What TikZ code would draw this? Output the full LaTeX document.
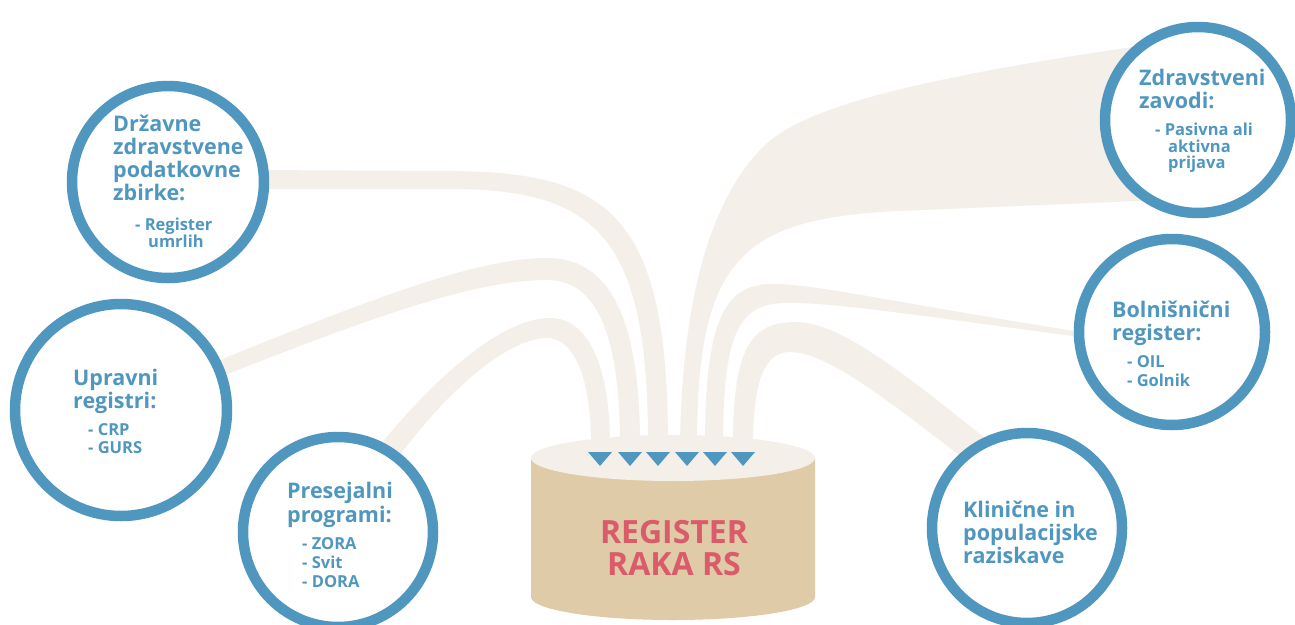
\documentclass[tikz,border=0pt]{standalone}
\usepackage{fontspec}
\setmainfont{Open Sans}
\definecolor{ringblue}{RGB}{80,151,192}
\definecolor{streamc}{RGB}{244,240,233}
\definecolor{tanc}{RGB}{223,203,168}
\definecolor{redc}{RGB}{218,91,106}
\tikzset{
  ring/.style={circle, draw=ringblue, line width=10.5pt, fill=white, inner sep=0pt},
  stream/.style={fill=streamc},
  maintext/.style={text=ringblue, anchor=base west, inner sep=0pt, font=\bfseries\fontsize{21.5}{24}\selectfont},
  subtext/.style={text=ringblue, anchor=base west, inner sep=0pt, font=\bfseries\fontsize{16.5}{18}\selectfont},
  titletext/.style={text=redc, anchor=base, inner sep=0pt, font=\bfseries\fontsize{32}{34}\selectfont},
  tri/.style={fill=ringblue}
}
\begin{document}
\begin{tikzpicture}[x=1pt,y=-1pt]
\useasboundingbox (0,0) rectangle (1295,624);
\clip (0,0) rectangle (1295,624);
\fill[white] (0,0) rectangle (1295,624);

% streams
\fill[stream] (360,470) -- (380,445) .. controls (450,360) and (510,318) .. (550,318) .. controls (590,318) and (610,370) .. (610,445) -- (591,445) .. controls (591,380) and (575,338) .. (547,338) .. controls (515,338) and (460,375) .. (400,455) -- (380,480) -- cycle;
\fill[stream] (200,370) -- (215,362) .. controls (380,295) and (480,258) .. (547,258) .. controls (600,258) and (640,300) .. (640,445) -- (620,445) .. controls (620,320) and (590,280) .. (547,280) .. controls (480,280) and (390,310) .. (225,375) -- (205,385) -- cycle;
\fill[stream] (250,170) -- (450,171) .. controls (610,172) and (668,215) .. (668,445) -- (648,445) .. controls (648,240) and (600,189) .. (450,189) -- (250,189) -- cycle;
\fill[stream] (680,445) .. controls (682,300) and (710,200) .. (763,147) .. controls (800,110) and (900,80) .. (1160,43) -- (1160,200) -- (900,211) .. controls (740,218) and (697,260) .. (697,445) -- cycle;
\fill[stream] (705,445) .. controls (705,320) and (725,285) .. (770,284) .. controls (810,283) and (880,300) .. (1080,332) -- (1080,337) .. controls (900,313) and (830,302) .. (785,303) .. controls (740,304) and (723,330) .. (723,445) -- cycle;
\fill[stream] (733,445) .. controls (733,350) and (750,322) .. (795,322) .. controls (840,322) and (900,370) .. (1000,450) -- (985,475) .. controls (900,410) and (830,352) .. (790,352) .. controls (765,352) and (753,380) .. (753,445) -- cycle;

% cylinder
\fill[tanc] (531,458) -- (531,597) arc[start angle=180, end angle=0, x radius=142, y radius=23] -- (815,458) -- cycle;
\fill[streamc] (673,458) ellipse[x radius=142, y radius=23];
\foreach \cx in {600,630,658,687,715,743}{
  \fill[tri] (\cx-12,452) -- (\cx+12,452) -- (\cx,466) -- cycle;
}
\node[titletext] (t1) at (674,543) {REGISTER};
\node[titletext] (t2) at (674,575) {RAKA RS};

% circles
\node[ring, minimum size=192pt] (dz) at (168,182) {};
\node[ring, minimum size=212pt] (up) at (121,410) {};
\node[ring, minimum size=190pt] (ps) at (338,532) {};
\node[ring, minimum size=190pt] (kl) at (1027,528) {};
\node[ring, minimum size=186pt] (bo) at (1172,332) {};
\node[ring, minimum size=186pt] (zd) at (1198,120) {};

% texts
\node[maintext] (d1) at (113,131) {Državne};
\node[maintext] (d2) at (113,154) {zdravstvene};
\node[maintext] (d3) at (113,177) {podatkovne};
\node[maintext] (d4) at (113,200) {zbirke:};
\node[subtext] (d5) at (135,230) {- Register};
\node[subtext] (d6) at (148,247) {umrlih};

\node[maintext] (u1) at (73,385) {Upravni};
\node[maintext] (u2) at (73,408) {registri:};
\node[subtext] (u3) at (88,435) {- CRP};
\node[subtext] (u4) at (88,453) {- GURS};

\node[maintext] (z1) at (1139,85) {Zdravstveni};
\node[maintext] (z2) at (1139,108) {zavodi:};
\node[subtext] (z3) at (1155,135) {- Pasivna ali};
\node[subtext] (z4) at (1168,152) {aktivna};
\node[subtext] (z5) at (1168,168) {prijava};

\node[maintext] (b1) at (1112,317) {Bolnišnični};
\node[maintext] (b2) at (1112,340) {register:};
\node[subtext] (b3) at (1127,367) {- OIL};
\node[subtext] (b4) at (1127,386) {- Golnik};

\node[maintext] (p1) at (287,498) {Presejalni};
\node[maintext] (p2) at (287,522) {programi:};
\node[subtext] (p3) at (302,549) {- ZORA};
\node[subtext] (p4) at (302,568) {- Svit};
\node[subtext] (p5) at (302,587) {- DORA};

\node[maintext] (k1) at (963,517) {Klinične in};
\node[maintext] (k2) at (963,540) {populacijske};
\node[maintext] (k3) at (963,563) {raziskave};
\end{tikzpicture}
\end{document}
